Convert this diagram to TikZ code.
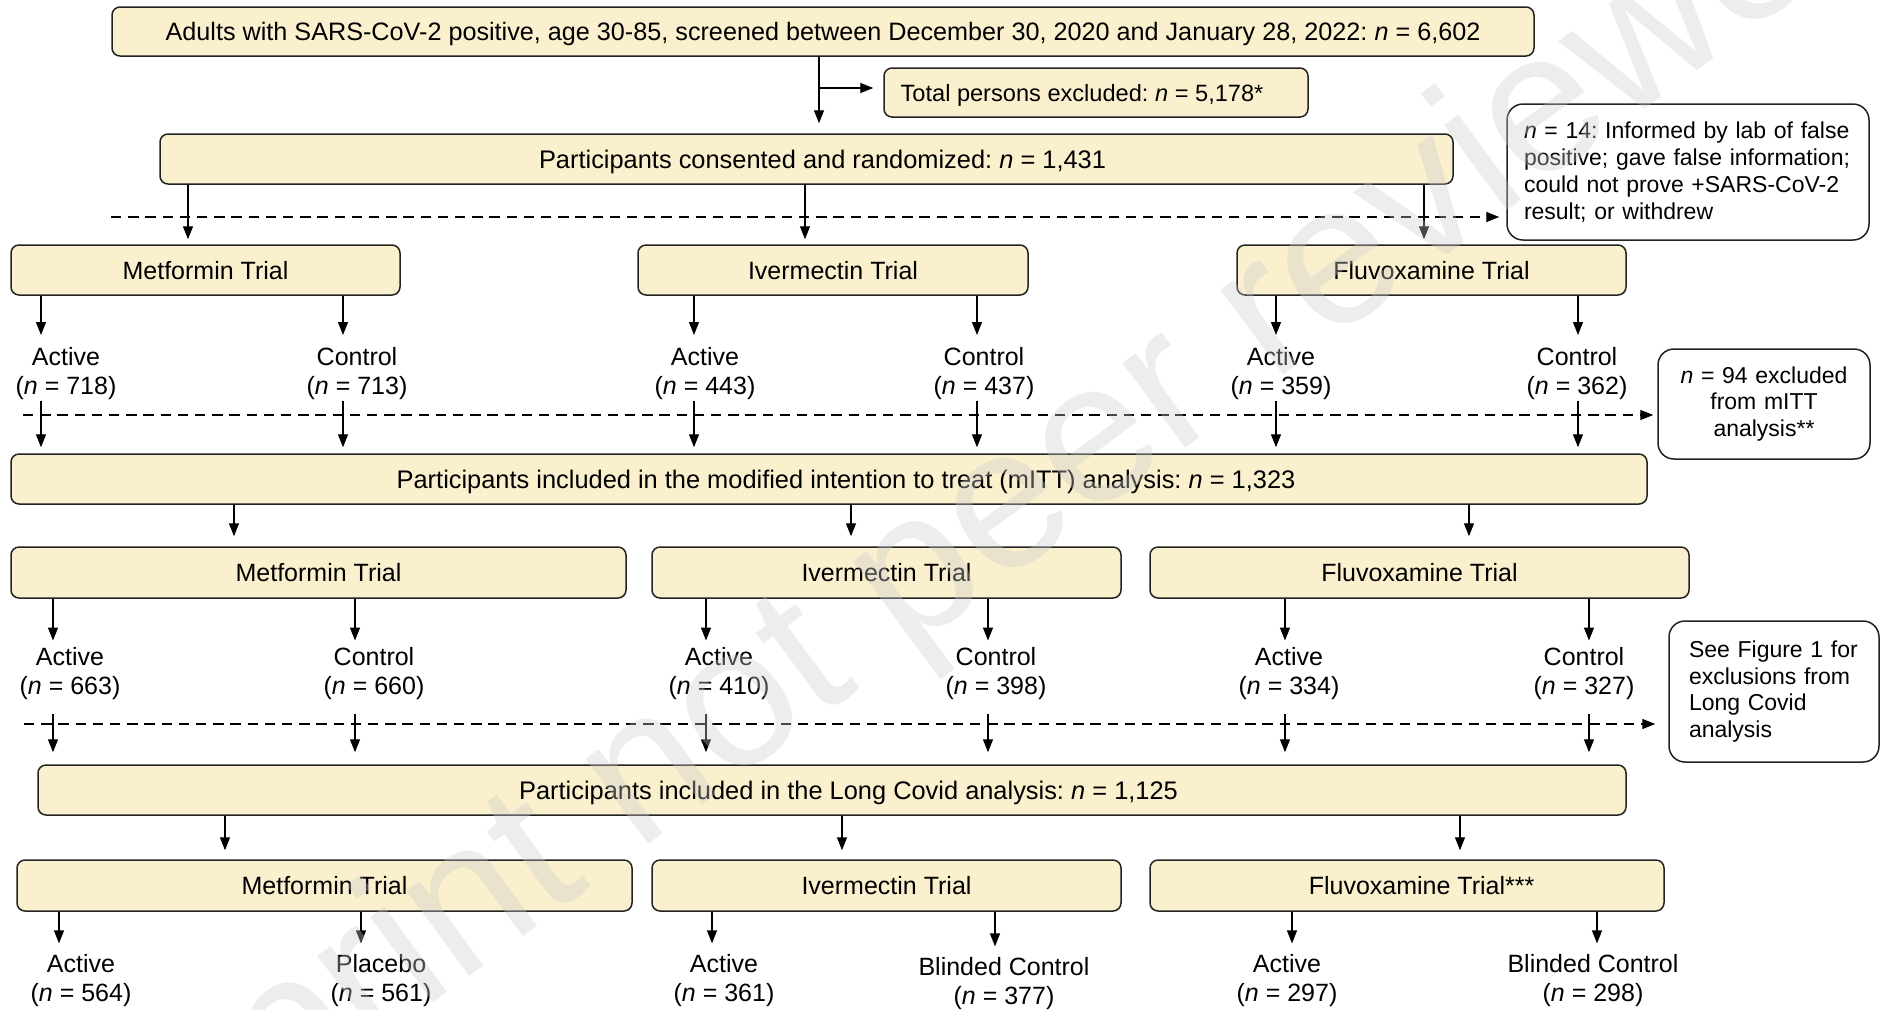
\documentclass[tikz,border=0pt]{standalone}
\usepackage{fontspec}
\setmainfont{Liberation Sans}
\usetikzlibrary{arrows.meta}
\definecolor{boxfill}{RGB}{250,240,206}
\definecolor{boxline}{RGB}{35,35,35}
\newcommand\mainsz{\fontsize{12.5pt}{14.65pt}\selectfont}
\newcommand\bigsz{\fontsize{12.7pt}{15pt}\selectfont}
\newcommand\topsz{\fontsize{12.6pt}{15pt}\selectfont}
\newcommand\exclsz{\fontsize{11.8pt}{14pt}\selectfont}
\newcommand\notesz{\fontsize{11.5pt}{13.4pt}\selectfont}
\newcommand\itn{\textit{n}}
\begin{document}
\frenchspacing
\begin{tikzpicture}[x=0.5pt,y=-0.5pt,
  box/.style 2 args={draw=boxline, line width=0.75pt, fill=boxfill, rounded corners=4pt,
     minimum width=#1*0.5pt, minimum height=#2*0.5pt, inner sep=0pt, font=\mainsz,
     text height=9.3pt, text depth=0pt},
  notebox/.style n args={3}{draw=boxline, line width=0.75pt, fill=white, rounded corners=8pt,
     text width=#1*0.5pt, minimum height=#2*0.5pt, inner xsep=#3*0.5pt, inner ysep=0pt, font=\notesz},
  lab/.style={align=center, anchor=north, inner sep=0pt, font=\mainsz},
  arr/.style={draw=black, line width=0.6pt, -{Triangle[length=6.5pt,width=5pt]}},
  dashline/.style={arr, dash pattern=on 5.2pt off 3.4pt},
  wmark/.style={rotate=36.4, anchor=base, inner sep=0pt, font=\fontsize{100pt}{100pt}\selectfont,
     text=black!20, text opacity=0.35}
]
\fill[white] (0,0) rectangle (1881,1009);
\useasboundingbox (0,0) rectangle (1881,1009);

% ---------- column coordinates ----------
\foreach \n/\x in {c0/819, r1/188, r2/805, r3/1424,
                   a1/41, a2/343, a3/694, a4/977, a5/1276, a6/1578,
                   m1/234, m2/851, m3/1469,
                   b1/53, b2/355, b3/706, b4/988, b5/1285, b6/1589,
                   l1/225, l2/842, l3/1460,
                   e1/59, e2/361, e3/712, e4/995, e5/1292, e6/1597}
  \coordinate (\n) at (\x,0);

% ---------- boxes ----------
\node[box={1422}{49}, font=\topsz] (top) at (823,31.5)
  {Adults with SARS-CoV-2 positive, age 30-85, screened between December 30, 2020 and January 28, 2022: \itn{} = 6,602};
\node[box={424}{49}, font=\exclsz] (excl) at (1096,92.5)
  {Total persons excluded: \itn{} = 5,178*\hspace*{14pt}};
\node[box={1293}{50}, font=\bigsz] (rand) at (806.5,159)
  {\hspace*{16pt}Participants consented and randomized: \itn{} = 1,431};
\node[notebox={328}{136}{17}, align=left] (note1) at (1688,172)
  {\itn{} = 14: Informed by lab of false\\positive; gave false information;\\could not prove +SARS-CoV-2\\result; or withdrew};

\node[box={389}{50}] (M1) at (205.5,270) {Metformin Trial};
\node[box={390}{50}] (I1) at (833,270) {Ivermectin Trial};
\node[box={389}{50}] (F1) at (1431.5,270) {Fluvoxamine Trial};

\node[lab] (L1) at (66,346.6)   {Active\\(\itn{} = 718)};
\node[lab] (L2) at (357,346.6)  {Control\\(\itn{} = 713)};
\node[lab] (L3) at (705,346.6)  {Active\\(\itn{} = 443)};
\node[lab] (L4) at (984,346.6)  {Control\\(\itn{} = 437)};
\node[lab] (L5) at (1281,346.6) {Active\\(\itn{} = 359)};
\node[lab] (L6) at (1577,346.6) {Control\\(\itn{} = 362)};

\node[notebox={192}{110}{10}, align=center] (note2) at (1764,404)
  {\itn{} = 94 excluded\\from mITT\\analysis**};

\node[box={1636}{50}, font=\bigsz] (mitt) at (829,479)
  {\hspace*{17pt}Participants included in the modified intention to treat (mITT) analysis: \itn{} = 1,323};

\node[box={615}{51}] (M2) at (318.5,572.5) {Metformin Trial};
\node[box={469}{51}] (I2) at (886.5,572.5) {Ivermectin Trial};
\node[box={539}{51}] (F2) at (1419.5,572.5) {Fluvoxamine Trial};

\node[lab] (K1) at (70,646.5)   {Active\\(\itn{} = 663)};
\node[lab] (K2) at (374,646.5)  {Control\\(\itn{} = 660)};
\node[lab] (K3) at (719,646.5)  {Active\\(\itn{} = 410)};
\node[lab] (K4) at (996,646.5)  {Control\\(\itn{} = 398)};
\node[lab] (K5) at (1289,646.5) {Active\\(\itn{} = 334)};
\node[lab] (K6) at (1584,646.5) {Control\\(\itn{} = 327)};

\node[notebox={170}{141}{20}, align=left] (note3) at (1774,691.5)
  {See Figure 1 for\\exclusions from\\Long Covid\\analysis};

\node[box={1588}{50}, font=\bigsz] (lc) at (832,790)
  {\hspace*{16.5pt}Participants included in the Long Covid analysis: \itn{} = 1,125};

\node[box={615}{51}] (M3) at (324.5,885.5) {Metformin Trial};
\node[box={469}{51}] (I3) at (886.5,885.5) {Ivermectin Trial};
\node[box={514}{51}] (F3) at (1407,885.5) {Fluvoxamine Trial\rlap{***}};

\node[lab] (J1) at (81,954)   {Active\\(\itn{} = 564)};
\node[lab] (J2) at (381,954)  {Placebo\\(\itn{} = 561)};
\node[lab] (J3) at (724,954)  {Active\\(\itn{} = 361)};
\node[lab] (J4) at (1004,957) {Blinded Control\\(\itn{} = 377)};
\node[lab] (J5) at (1287,954) {Active\\(\itn{} = 297)};
\node[lab] (J6) at (1593,954) {Blinded Control\\(\itn{} = 298)};

% ---------- connectors ----------
\draw[arr, shorten >=5pt] (top.south -| c0) -- (rand.north -| c0);
\coordinate (br) at (819,88);
\draw[arr, shorten >=5pt] (br) -- (excl.west |- br);

\foreach \c/\b in {r1/M1, r2/I1, r3/F1}
  \draw[arr, shorten >=2.5pt] (rand.south -| \c) -- (\b.north -| \c);

\coordinate (d1) at (111,217);
\draw[dashline, shorten >=3.5pt] (d1) -- (note1.west |- d1);

\foreach \c/\b/\l in {a1/M1/L1, a2/M1/L2, a3/I1/L3, a4/I1/L4, a5/F1/L5, a6/F1/L6}
  \draw[arr, shorten >=5.8pt] (\b.south -| \c) -- (\l.north -| \c);

\coordinate (d2) at (23,415);
\draw[dashline, shorten >=2pt] (d2) -- (note2.west |- d2);

\foreach \c/\l in {a1/L1, a2/L2, a3/L3, a4/L4, a5/L5, a6/L6}
  \draw[arr, shorten <=0.3pt, shorten >=3pt] (\l.south -| \c) -- (mitt.north -| \c);

\foreach \c/\b in {m1/M2, m2/I2, m3/F2}
  \draw[arr, shorten >=5pt] (mitt.south -| \c) -- (\b.north -| \c);

\foreach \c/\b/\l in {b1/M2/K1, b2/M2/K2, b3/I2/K3, b4/I2/K4, b5/F2/K5, b6/F2/K6}
  \draw[arr, shorten >=3pt] (\b.south -| \c) -- (\l.north -| \c);

\coordinate (d3) at (24,724);
\draw[dashline, shorten >=6.5pt] (d3) -- (note3.west |- d3);

\foreach \c/\l in {b1/K1, b2/K2, b3/K3, b4/K4, b5/K5, b6/K6}
  \draw[arr, shorten <=6.8pt, shorten >=6pt] (\l.south -| \c) -- (lc.north -| \c);

\foreach \c/\b in {l1/M3, l2/I3, l3/F3}
  \draw[arr, shorten >=4.5pt] (lc.south -| \c) -- (\b.north -| \c);

\foreach \c/\b/\l in {e1/M3/J1, e2/M3/J2, e3/I3/J3, e4/I3/J4, e5/F3/J5, e6/F3/J6}
  \draw[arr, shorten >=5.3pt] (\b.south -| \c) -- (\l.north -| \c);

% ---------- watermark ----------
\node[wmark] (wm) at (982,598) {preprint not peer reviewed};
\end{tikzpicture}
\end{document}
